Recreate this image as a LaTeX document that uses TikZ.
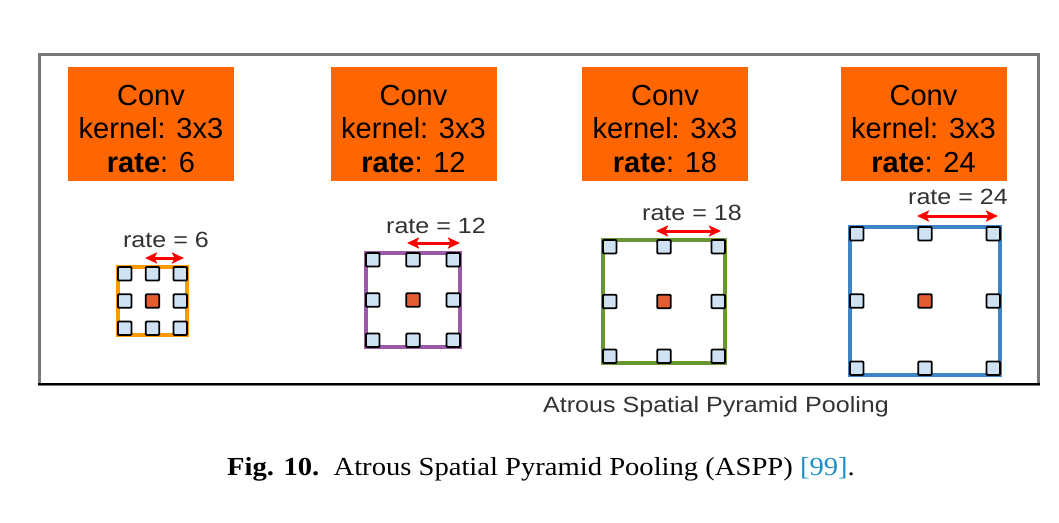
\documentclass[tikz,border=0pt]{standalone}
\usepackage{fontspec}
\setmainfont{Liberation Serif}
\newfontfamily\arialfont{Liberation Sans}
\usetikzlibrary{arrows.meta}
\definecolor{convorange}{RGB}{255,102,0}
\definecolor{cellblue}{RGB}{207,226,243}
\definecolor{ctrred}{RGB}{230,92,50}
\definecolor{framegray}{RGB}{120,120,120}
\definecolor{gorange}{RGB}{255,153,0}
\definecolor{gpurple}{RGB}{155,90,165}
\definecolor{ggreen}{RGB}{106,150,50}
\definecolor{gblue}{RGB}{61,133,198}
\definecolor{labelgray}{RGB}{50,50,50}
\definecolor{refblue}{RGB}{30,144,200}
\newcommand\aspgrid[6]{%
  \node[gridbox, draw=#6, minimum width=#4pt, minimum height=#5pt] (#1) at (#2,#3) {};
  \node[cell, anchor=north west] (#1nw) at (#1.north west) {};
  \node[cell, anchor=north] (#1n) at (#1.north) {};
  \node[cell, anchor=north east] (#1ne) at (#1.north east) {};
  \node[cell, anchor=west] (#1w) at (#1.west) {};
  \node[cell, fill=ctrred] (#1c) at (#1.center) {};
  \node[cell, anchor=east] (#1e) at (#1.east) {};
  \node[cell, anchor=south west] (#1sw) at (#1.south west) {};
  \node[cell, anchor=south] (#1s) at (#1.south) {};
  \node[cell, anchor=south east] (#1se) at (#1.south east) {};
}
\begin{document}
\begin{tikzpicture}[x=1pt,y=-1pt,
  convbox/.style={fill=convorange, draw=none, minimum width=166pt, minimum height=114pt,
    inner sep=0pt},
  convtext/.style={inner sep=0pt, align=center, font=\arialfont\fontsize{29}{33.5}\selectfont},
  gridbox/.style={line width=3.4pt, inner sep=0pt, outer sep=0pt},
  cell/.style={draw=black, fill=cellblue, line width=1.8pt, minimum size=13.5pt,
    inner sep=0pt, outer sep=0pt, rounded corners=1pt},
  ratelbl/.style={text=labelgray, inner sep=0pt, font=\arialfont\fontsize{22}{26}\selectfont},
  ratearrow/.style={draw=red, line width=3pt,
    {Stealth[length=12pt,width=11pt,inset=2.5pt]}-{Stealth[length=12pt,width=11pt,inset=2.5pt]}},
]
\useasboundingbox (0,0) rectangle (1059,522);
% frame
\draw[framegray, line width=3pt] (39,54) rectangle (1038,384);
\draw[black, line width=2.4pt] (37.5,384) -- (1039.5,384);
% conv boxes
\node[convbox] (b1) at (151,124) {};
\node[convbox] (b2) at (413.5,124) {};
\node[convbox] (b3) at (665,124) {};
\node[convbox] (b4) at (923.5,124) {};
\node[convtext] (t1) at (151,129) {Conv\\kernel: 3x3\\\textbf{rate}: 6};
\node[convtext] (t2) at (413.5,129) {Conv\\kernel: 3x3\\\textbf{rate}: 12};
\node[convtext] (t3) at (665,129) {Conv\\kernel: 3x3\\\textbf{rate}: 18};
\node[convtext] (t4) at (923.5,129) {Conv\\kernel: 3x3\\\textbf{rate}: 24};
% grids
\aspgrid{ga}{152.5}{301}{69}{68}{gorange}
\aspgrid{gb}{413}{300}{94}{94}{gpurple}
\aspgrid{gc}{664}{301.5}{122}{123}{ggreen}
\aspgrid{gd}{925}{301}{150}{148}{gblue}
% rate labels
\node[ratelbl] (ra) at (166,240) {\scalebox{1.14}[1]{rate = 6}};
\node[ratelbl] (rb) at (436,226) {\scalebox{1.14}[1]{rate = 12}};
\node[ratelbl] (rc) at (692,213) {\scalebox{1.14}[1]{rate = 18}};
\node[ratelbl] (rd) at (958,197) {\scalebox{1.14}[1]{rate = 24}};
% arrows
\coordinate (aal) at (145,258); \coordinate (aar) at (184,258);
\coordinate (abl) at (407,243); \coordinate (abr) at (460,243);
\coordinate (acl) at (656,231); \coordinate (acr) at (721,231);
\coordinate (adl) at (917,216); \coordinate (adr) at (998,216);
\draw[ratearrow] (aal) -- (aar);
\draw[ratearrow] (abl) -- (abr);
\draw[ratearrow] (acl) -- (acr);
\draw[ratearrow] (adl) -- (adr);
% titles
\node[ratelbl] (aspp) at (716,407) {\scalebox{1.14}[1]{Atrous Spatial Pyramid Pooling}};
\node[inner sep=0pt, font=\fontsize{26}{30}\selectfont] (cap) at (541,469)
  {\scalebox{1.10}[1]{\textbf{Fig. 10.}\enspace Atrous Spatial Pyramid Pooling (ASPP) \textcolor{refblue}{[99]}.}};
\end{tikzpicture}
\end{document}
